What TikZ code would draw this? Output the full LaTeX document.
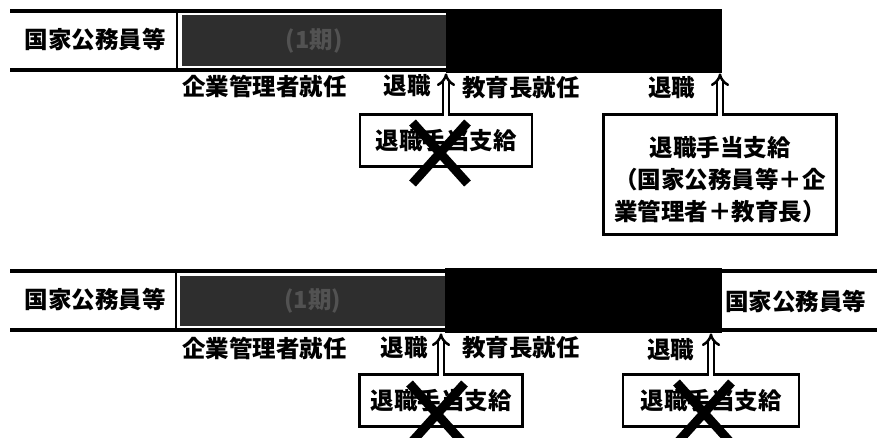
\documentclass[tikz,border=0pt]{standalone}
\usepackage{fontspec}
\setmainfont{Noto Sans CJK JP}
\usetikzlibrary{arrows.meta, shapes.misc, calc, positioning}
\definecolor{scangray}{gray}{0.18}
\definecolor{scantext}{gray}{0.32}
\tikzset{
  x=1pt, y=-1pt,
  jp/.style={font=\bfseries\fontsize{23.5}{32}\selectfont},
  rail/.style={line width=4pt},
  tag/.style={jp, inner sep=0pt},
  period/.style={jp, fill=scangray, text=scantext, inner sep=0pt, anchor=north west},
  office/.style={fill=black, inner sep=0pt, anchor=north west},
  note/.style={jp, draw, line width=2.5pt, fill=white, inner sep=0pt, align=center, anchor=north},
  pointer/.style={double, double distance=3.5pt, line width=2.5pt, -{Implies}},
  cross/.style={cross out, draw, line width=9pt, inner sep=0pt}
}

\begin{document}
\begin{tikzpicture}
  \fill[white] (0,0) rectangle (877,437);
  \clip (0,0) rectangle (877,437);

  % upper time line
  \draw[rail] (10,11) -- (722,11);
  \draw[rail] (10,70) -- (722,70);
  \draw[line width=2.5pt] (177,11) -- (177,70);
  \node[tag] (name1) at (95,40) {国家公務員等};
  \node[period, minimum width=264pt, minimum height=51pt] (gray1) at (182,15) {(1期)};
  \node[office, minimum width=276pt, minimum height=64pt] (black1) at (446,9) {};

  \node[tag, anchor=west] (ent1) at (182,86) {企業管理者就任};
  \node[tag, anchor=east] (ret1) at (431,86) {退職};
  \node[tag, anchor=west] (edu1) at (462,88) {教育長就任};
  \node[tag, anchor=west] (ret2) at (648,88) {退職};

  \node[note, minimum width=172pt, minimum height=52pt] (box1) at (446,113) {退職手当支給};
  \node[note, minimum width=233pt, minimum height=120pt] (box2) at (720,113) {};
  \node[tag, align=center] (text2) at ($(box2.center)+(0,5)$)
    {退職手当支給\\（国家公務員等＋企\\業管理者＋教育長）};

  \draw[pointer] ([yshift=-3pt]box1.north) -- (box1.north |- black1.south);
  \draw[pointer] ([yshift=-3pt]box2.north) -- (box2.north |- black1.south);

  \node[cross, minimum width=46pt, minimum height=52pt] (cross1) at (440,153) {};

  % lower time line
  \draw[rail] (10,271) -- (877,271);
  \draw[rail] (10,330) -- (877,330);
  \draw[line width=2.5pt] (176,271) -- (176,330);
  \node[tag] (name2) at (95,300) {国家公務員等};
  \node[period, minimum width=265pt, minimum height=50pt] (gray2) at (180,276) {(1期)};
  \node[office, minimum width=277pt, minimum height=65pt] (black2) at (445,268) {};
  \node[tag, anchor=west] (name3) at (725,302) {国家公務員等};

  \node[tag, anchor=west] (ent2) at (182,348) {企業管理者就任};
  \node[tag, anchor=east] (ret3) at (428,348) {退職};
  \node[tag, anchor=west] (edu2) at (462,348) {教育長就任};
  \node[tag, anchor=west] (ret4) at (647,350) {退職};

  \node[note, minimum width=163pt, minimum height=52pt] (box3) at (441,373) {退職手当支給};
  \node[note, minimum width=176pt, minimum height=52pt] (box4) at (711,373) {退職手当支給};

  \draw[pointer] ([yshift=-3pt]box3.north) -- (box3.north |- black2.south);
  \draw[pointer] ([yshift=-3pt]box4.north) -- (box4.north |- black2.south);

  \node[cross, minimum width=46pt, minimum height=52pt] (cross2) at (437,414) {};
  \node[cross, minimum width=46pt, minimum height=52pt] (cross3) at (704,413) {};
\end{tikzpicture}
\end{document}
